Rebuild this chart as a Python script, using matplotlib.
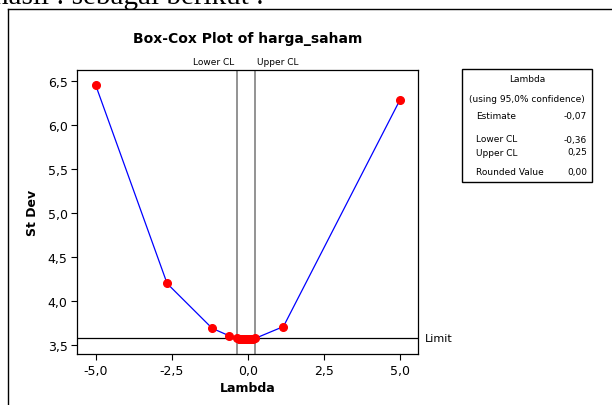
import matplotlib
matplotlib.use("Agg")
import matplotlib.pyplot as plt
from matplotlib.patches import Rectangle

# box-cox lambda grid and the st dev at each lambda
lam = [-5.0, -2.65, -1.17, -0.61, -0.36, -0.3, -0.24, -0.18, -0.12, -0.07,
       -0.02, 0.04, 0.1, 0.16, 0.25, 1.17, 5.0]
sd = [6.46, 4.20, 3.69, 3.605, 3.577, 3.573, 3.570, 3.568, 3.567, 3.566,
      3.567, 3.568, 3.570, 3.572, 3.577, 3.71, 6.29]

estimate = -0.07
lower_cl = -0.36
upper_cl = 0.25
rounded = 0.00
limit = 3.577

xticks = [-5.0, -2.5, 0.0, 2.5, 5.0]
yticks = [3.5, 4.0, 4.5, 5.0, 5.5, 6.0, 6.5]


def comma(v):
    return f"{v:.1f}".replace(".", ",")


def comma2(v):
    return f"{v:.2f}".replace(".", ",")


W, H = 612, 406
fig = plt.figure(figsize=(W / 100, H / 100), dpi=100)


def fx(px):
    return px / W


def fy(py):
    return 1 - py / H


# page frame and the line of text above it
fig.add_artist(plt.Line2D([fx(7.5), fx(7.5)], [fy(10), 0], color="black", lw=1))
fig.add_artist(plt.Line2D([fx(7.5), 1], [fy(10), fy(10)], color="black", lw=1))
fig.text(fx(-6), fy(4), "hasil : sebagai berikut :", family="Liberation Serif",
         fontsize=21, ha="left", va="baseline")

ax = fig.add_axes([fx(77.3), fy(355), fx(418.3) - fx(77.3), fy(70.7) - fy(355)])
ax.plot(lam, sd, color="blue", lw=0.9, zorder=2)
ax.plot(lam, sd, "o", color="red", ms=5.5, zorder=3)
ax.axhline(limit, color="black", lw=0.9, zorder=1)
ax.axvline(lower_cl, color="#808080", lw=1.2, zorder=1)
ax.axvline(upper_cl, color="#808080", lw=1.2, zorder=1)

ax.set_xlim(-5.6, 5.6)
ax.set_ylim(3.398, 6.632)
ax.set_xticks(xticks)
ax.set_xticklabels([comma(v) for v in xticks])
ax.set_yticks(yticks)
ax.set_yticklabels([comma(v) for v in yticks])
ax.tick_params(direction="out", length=4, width=0.8, labelsize=9, pad=3)
for s in ax.spines.values():
    s.set_linewidth(0.9)

ax.set_xlabel("Lambda", fontsize=9, fontweight="bold", labelpad=3)
ax.set_ylabel("St Dev", fontsize=9, fontweight="bold", labelpad=6)
ax.set_title("Box-Cox Plot of harga_saham", fontsize=10, fontweight="bold", pad=20)

ax.text(lower_cl - 0.1, 6.672, "Lower CL", fontsize=6.5, ha="right", va="bottom")
ax.text(upper_cl + 0.05, 6.672, "Upper CL", fontsize=6.5, ha="left", va="bottom")
ax.text(5.82, limit, "Limit", fontsize=8, ha="left", va="center", clip_on=False)

# lambda summary box
fig.add_artist(Rectangle((fx(462), fy(183)), fx(592) - fx(462), fy(70) - fy(183),
                         fill=False, ec="black", lw=1))
fs = 6.5
fig.text(fx(527), fy(80), "Lambda", fontsize=fs, ha="center", va="center")
fig.text(fx(527), fy(99), "(using 95,0% confidence)", fontsize=fs, ha="center", va="center")
rows = [("Estimate", estimate, 117), ("Lower CL", lower_cl, 140),
        ("Upper CL", upper_cl, 153), ("Rounded Value", rounded, 173)]
for name, val, py in rows:
    fig.text(fx(476), fy(py), name, fontsize=fs, ha="left", va="center")
    fig.text(fx(587), fy(py), comma2(val), fontsize=fs, ha="right", va="center")

fig.savefig("out.png", dpi=100)
